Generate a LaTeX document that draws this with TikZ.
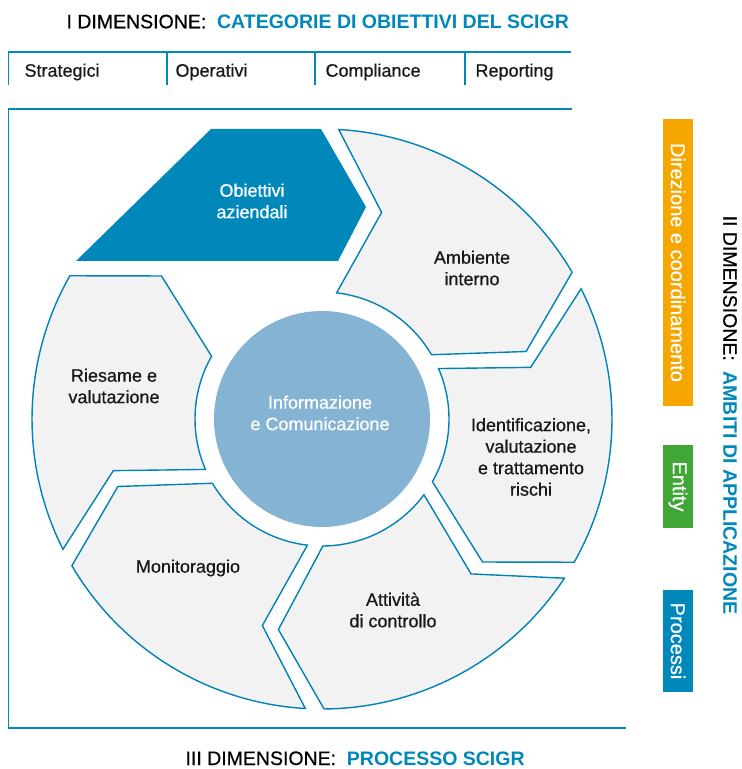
\documentclass[tikz,border=0pt]{standalone}
\usepackage{fontspec}
\setmainfont{Liberation Sans}
\newfontfamily\medfont{Liberation Sans}[FakeBold=0.6]
\usepackage{tikz}
\definecolor{scigrblue}{RGB}{0, 136, 186}
\definecolor{segline}{RGB}{0, 130, 182}
\definecolor{seggray}{RGB}{242, 242, 242}
\definecolor{infoblue}{RGB}{132, 179, 212}
\definecolor{dirorange}{RGB}{245, 166, 0}
\definecolor{entgreen}{RGB}{64, 166, 53}

\begin{document}
\begin{tikzpicture}[x=1pt, y=1pt,
  frameline/.style={draw=scigrblue, line width=1.8pt},
  seg/.style={draw=segline, fill=seggray, line width=1.4pt, line join=miter},
  seglbl/.style={align=center, font=\medfont\fontsize{18}{21.5}\selectfont, text=black!90},
  cat/.style={anchor=base west, font=\medfont\fontsize{18}{20}\selectfont, text=black!90},
  dimtitle/.style={font=\medfont\fontsize{19.5}{22}\selectfont},
  ambit/.style={rotate=-90, text=white, minimum height=30pt, inner sep=0pt, font=\medfont\fontsize{20}{22}\selectfont}]
  \useasboundingbox (0,0) rectangle (742,769);

  % I dimensione: categorie
  \node[dimtitle, anchor=base west] (dim1) at (63,740.7) {I DIMENSIONE:\ \ \textcolor{scigrblue}{\normalfont\fontsize{19.5}{22}\selectfont\bfseries CATEGORIE DI OBIETTIVI DEL SCIGR}};
  \draw[frameline] (8.5,684) -- (8.5,717) -- (571,717);
  \foreach \xs in {167,315,465}
    \draw[frameline] (\xs,717) -- (\xs,684);
  \node[cat] (strat) at (21,692.3) {Strategici};
  \node[cat] (oper) at (172,692.3) {Operativi};
  \node[cat] (compl) at (322,692.3) {Compliance};
  \node[cat] (repo) at (472,692.3) {Reporting};

  % frame of the process
  \draw[frameline] (572,660) -- (8.5,660) -- (8.5,41) -- (626,41);

  % wheel of the process
  \begin{scope}[shift={(322,350)}]
    \foreach \k in {0,...,4} {
      \begin{scope}[rotate=-60*\k]
        \draw[seg] (86.7:290pt) arc[start angle=86.7, end angle=30.4, radius=290pt]
          -- (18.3:215pt) -- (30.4:127pt)
          arc[start angle=30.4, end angle=83.4, radius=127pt]
          -- (73.9:215pt) -- cycle;
      \end{scope}
    }
    \fill[infoblue] (0,0) circle[radius=108pt];
  \end{scope}
  \fill[scigrblue] (76,508) -- (211,640) -- (321,640) -- (366,562) -- (338,508) -- cycle;

  % labels of the wheel
  \node[seglbl, text=white] (obj) at (252,568) {Obiettivi\\aziendali};
  \node[seglbl] (amb) at (472,501) {Ambiente\\interno};
  \node[seglbl] (ident) at (531,312) {Identificazione,\\valutazione\\e trattamento\\rischi};
  \node[seglbl] (att) at (393,159) {Attività\\di controllo};
  \node[seglbl] (moni) at (188,201) {Monitoraggio};
  \node[seglbl] (ries) at (114,383) {Riesame e\\valutazione};
  \node[seglbl, text=white] (info) at (320,356) {Informazione\\e Comunicazione};

  % II dimensione: ambiti
  \node[ambit, fill=dirorange, minimum width=287pt] (dir) at (678,506.5) {Direzione e coordinamento};
  \node[ambit, fill=entgreen, minimum width=83pt] (ent) at (678,282.5) {Entity};
  \node[ambit, fill=scigrblue, minimum width=102pt] (proc) at (678,128) {Processi};
  \node[dimtitle, rotate=-90] (dim2) at (730,354) {II DIMENSIONE:\ \ \textcolor{scigrblue}{\normalfont\fontsize{19.5}{22}\selectfont\bfseries AMBITI DI APPLICAZIONE}};

  % III dimensione: processo
  \node[dimtitle, anchor=base west] (dim3) at (182,4) {III DIMENSIONE:\ \ \textcolor{scigrblue}{\normalfont\fontsize{19.5}{22}\selectfont\bfseries PROCESSO SCIGR}};
\end{tikzpicture}
\end{document}
